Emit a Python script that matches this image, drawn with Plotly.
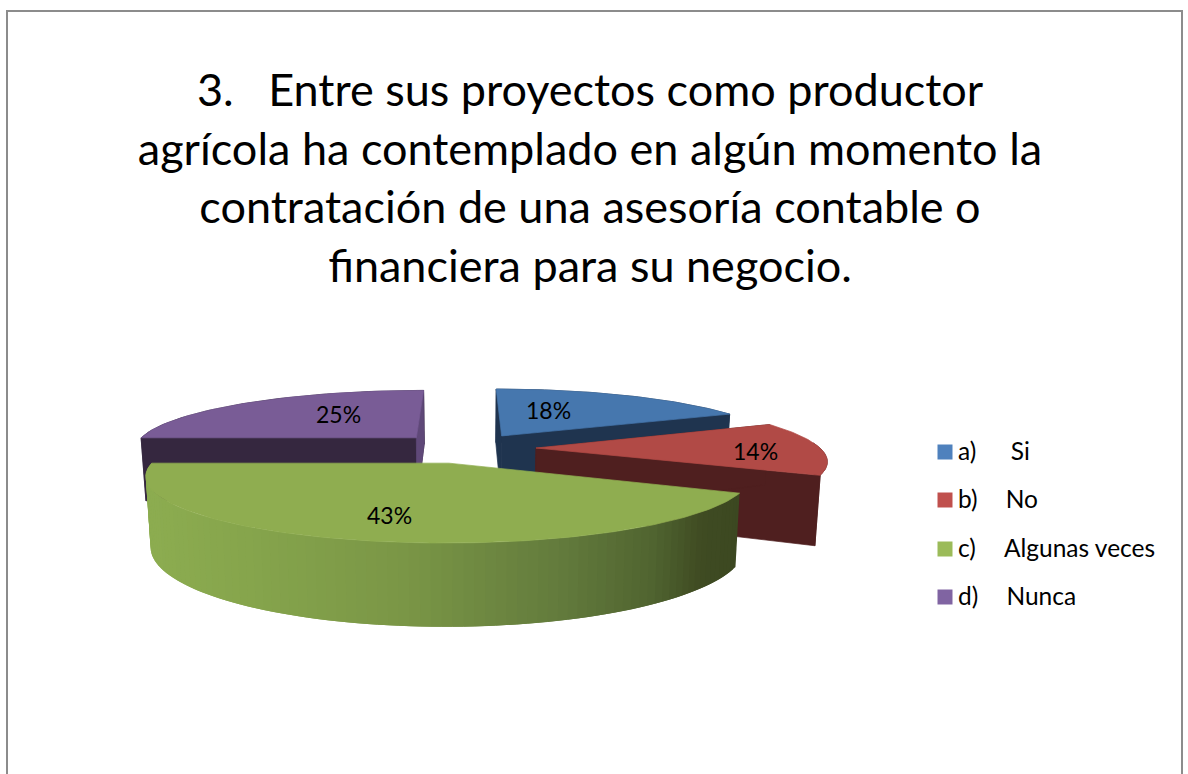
import math
import plotly.graph_objects as go

# ---- data ----
categories = ["a)\u00a0\u00a0\u00a0\u00a0\u00a0\u2009Si", "b)\u00a0\u00a0\u00a0\u00a0\u2009No",
              "c)\u00a0\u00a0\u00a0\u00a0\u2009Algunas veces", "d)\u00a0\u00a0\u00a0\u00a0\u2009Nunca"]
values = [18, 14, 43, 25]
title_lines = ["3.\u00a0\u00a0\u00a0Entre sus proyectos como productor",
               "agrícola ha contemplado en algún momento la",
               "contratación de una asesoría contable o",
               "financiera para su negocio."]

# ---- style ----
legend_colors = ["#4f81bd", "#c0504d", "#9bbb59", "#8064a2"]
top_colors = ["#4677ae", "#b14a46", "#8fad50", "#795c96"]
wall_colors = ["#1f344f", "#4f1f1f", "#3d4a22", "#35273f"]
facet_purple = "#5f4878"
green_stops = [(150, (140, 172, 80)), (240, (134, 165, 76)), (400, (122, 150, 70)),
               (560, (98, 122, 60)), (650, (80, 100, 48)), (700, (63, 75, 34)), (740, (60, 72, 33))]
label_xy = [(548, 410), (755, 451), (389, 515), (338, 414)]
legend_x = [945, 945, 945, 945]
legend_y = [452, 500, 549, 597]
legend_text_x = 958
legend_text_dy = 2

# ---- projection of the exploded disc to the axes ----
CX, CY, RS, KY, HT, PERSP, EXPL, CONV = 465.0, 448.0, 284.0, 59.3, 65.0, 0.18, 0.25, 0.015


def proj(X, w, z=0.0):
    s = 1.0 / (1.0 + PERSP * w)
    return CX + RS * X * s * (1 - CONV * z), CY - KY * w * s + HT * z * s


total = sum(values)
edges = [0.0]
for v in values:
    edges.append(edges[-1] + 360.0 * v / total)


def rim(i, th, z=0.0):
    m = math.radians((edges[i] + edges[i + 1]) / 2)
    t = math.radians(th)
    return proj(EXPL * math.sin(m) + math.sin(t), EXPL * math.cos(m) + math.cos(t), z)


def apex(i, z=0.0):
    m = math.radians((edges[i] + edges[i + 1]) / 2)
    return proj(EXPL * math.sin(m), EXPL * math.cos(m), z)


def arc(i, z=0.0, a=None, b=None, n=60):
    a = edges[i] if a is None else a
    b = edges[i + 1] if b is None else b
    return [rim(i, a + (b - a) * k / n, z) for k in range(n + 1)]


fig = go.Figure()


def poly(pts, color, lw=0.7):
    xs = [p[0] for p in pts] + [pts[0][0]]
    ys = [p[1] for p in pts] + [pts[0][1]]
    fig.add_trace(go.Scatter(x=xs, y=ys, mode="lines", fill="toself", fillcolor=color,
                             line=dict(color=color, width=lw), hoverinfo="skip", showlegend=False))


def green_color(x):
    if x <= green_stops[0][0]:
        c = green_stops[0][1]
    elif x >= green_stops[-1][0]:
        c = green_stops[-1][1]
    else:
        for (x0, c0), (x1, c1) in zip(green_stops, green_stops[1:]):
            if x0 <= x <= x1:
                f = (x - x0) / (x1 - x0)
                c = tuple(c0[j] + (c1[j] - c0[j]) * f for j in range(3))
                break
    return "rgb(%d,%d,%d)" % tuple(round(v) for v in c)


def walls(i):
    color = wall_colors[i]
    a0, a1 = edges[i], edges[i + 1]
    if i == 1:
        # red: silhouette runs straight from the rim to the front bottom corner
        poly(arc(i, a=85, b=a1) + [rim(i, a1, 1.0)], color)
    else:
        poly(arc(i) + arc(i, 1.0)[::-1], color)
    poly([apex(i), rim(i, a1), rim(i, a1, 1.0), apex(i, 1.0)], color)
    poly([apex(i), rim(i, a0), rim(i, a0, 1.0), apex(i, 1.0)], color)


# paint back to front: blue, purple, red, green
for i in (0, 3, 1):
    walls(i)
    if i == 3:
        poly([apex(3), rim(3, edges[4]), rim(3, edges[4], 1.0), apex(3, 1.0)], facet_purple)
    poly([apex(i)] + arc(i), top_colors[i])

# green outer wall: overlapping strips, so no seams show
steps = 90
for k in range(steps):
    a = edges[2] + (edges[3] - edges[2]) * k / steps
    b = edges[2] + (edges[3] - edges[2]) * (k + 2) / steps
    b = min(b, edges[3])
    top = arc(2, a=a, b=b, n=4)
    bot = arc(2, 1.0, a=a, b=b, n=4)
    color = green_color(rim(2, (a + b) / 2)[0])
    poly(top + bot[::-1], color, lw=0)
poly([apex(2)] + arc(2, n=120), top_colors[2])

# legend, placed as in the reference
for name, col, lx, ly in zip(categories, legend_colors, legend_x, legend_y):
    fig.add_trace(go.Scatter(x=[lx], y=[ly], mode="markers", name=name,
                             marker=dict(symbol="square", size=15, color=col),
                             hoverinfo="name", showlegend=False))
    fig.add_trace(go.Scatter(x=[legend_text_x], y=[ly + legend_text_dy], mode="text", text=[name],
                             textposition="middle right",
                             textfont=dict(family="Lato", size=24.5, color="#000000"),
                             hoverinfo="skip", showlegend=False, cliponaxis=False))

for (lx, ly), v in zip(label_xy, values):
    fig.add_annotation(x=lx, y=ly, text=f"{v}%", showarrow=False,
                       font=dict(family="Lato", size=23, color="#000000"))

fig.add_shape(type="rect", x0=7, x1=1182, y0=11, y1=820, line=dict(color="#8c8c8c", width=2),
              fillcolor="rgba(0,0,0,0)", layer="below")

fig.update_layout(
    width=1188, height=774, autosize=False,
    margin=dict(l=0, r=0, t=0, b=0),
    paper_bgcolor="white", plot_bgcolor="white",
    title=dict(text="<br>".join(title_lines), x=590 / 1188, xanchor="center",
               y=1 - 106 / 774, yanchor="middle",
               font=dict(family="Lato", size=45, color="#000000")),
    xaxis=dict(range=[0, 1188], visible=False, fixedrange=True),
    yaxis=dict(range=[774, 0], visible=False, fixedrange=True),
    showlegend=False,
)
fig.write_html("out.html", config={"displayModeBar": False},
               post_script="document.body.style.margin='0';document.body.style.overflow='hidden';")
